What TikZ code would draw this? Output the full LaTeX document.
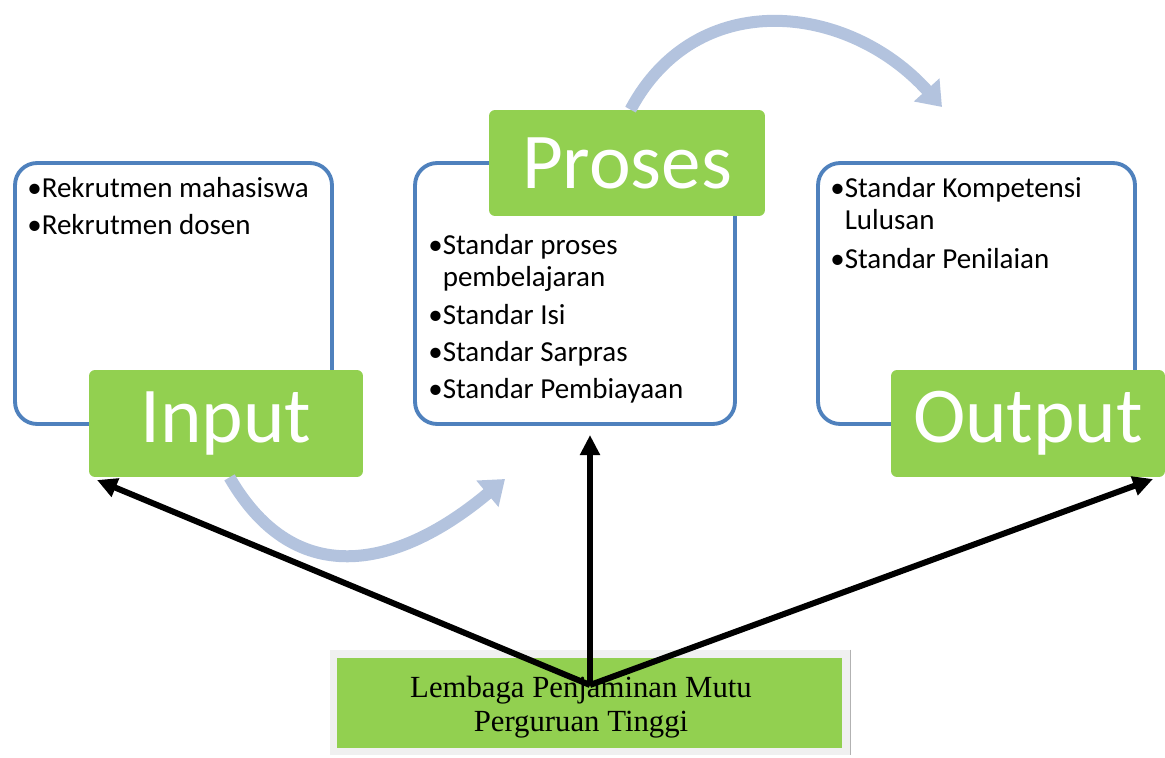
\documentclass[tikz,border=0pt]{standalone}
\usepackage{fontspec}
\setmainfont{Carlito}
\newfontfamily\timesfont{Liberation Serif}
\usetikzlibrary{
    arrows.meta,    % tips for the flow and link arrows
    positioning     % relative placement
}
\definecolor{boxblue}{HTML}{4F81BD}
\definecolor{phasegreen}{HTML}{92D050}
\definecolor{flowblue}{HTML}{B3C3DE}
\tikzset{
    std box/.style={draw=boxblue, line width=2.2pt, rounded corners=0.44cm,
        fill=white, minimum width=6.34cm, minimum height=5.22cm},
    phase node/.style={fill=phasegreen, rounded corners=0.12cm, inner sep=0pt,
        minimum width=5.48cm, minimum height=2.14cm, text=white,
        font=\fontsize{45}{50}\selectfont},
    item text/.style={anchor=north west, align=left, inner sep=0pt,
        font=\fontsize{16.5}{18}\selectfont},
    flow arrow/.style={draw=flowblue, line width=0.24cm,
        -{Triangle[length=0.46cm, width=0.66cm]}},
    link arrow/.style={draw, line width=0.12cm,
        -{Triangle[length=0.4cm, width=0.38cm]}}
}

\begin{document}
\begin{tikzpicture}[x=0.02cm, y=-0.02cm]
    \useasboundingbox (0,0) rectangle (1165,757);

    % standard boxes
    \node [std box] (input box) at (173.5,293.5) {};
    \node [std box, minimum width=6.4cm] (proses box) at (575,293.5) {};
    \node [std box] (output box) at (976.5,293.5) {};

    \node [item text] (input items) at (27,177)
        {\textbullet Rekrutmen mahasiswa\\[3pt]\textbullet Rekrutmen dosen};
    \node [item text] (proses items) at (428,234)
        {\textbullet Standar proses\\ \hphantom{\textbullet}pembelajaran\\[4pt]
         \textbullet Standar Isi\\[3pt]\textbullet Standar Sarpras\\[3pt]
         \textbullet Standar Pembiayaan};
    \node [item text] (output items) at (830,177)
        {\textbullet Standar Kompetensi\\ \hphantom{\textbullet}Lulusan\\[4.5pt]
         \textbullet Standar Penilaian};

    % phases
    \node [phase node] (input) at (226,423.5) {Input};
    \node [phase node, minimum width=5.52cm, minimum height=2.12cm] (proses) at (627,163) {Proses};
    \node [phase node] (output) at (1028,423.5) {Output};

    % flow between the phases
    \coordinate (flow in) at (505,479);
    \coordinate (flow out) at (942,107);
    \draw [flow arrow] ([xshift=2pt]input.south) to[out=-60, in=-140, looseness=1.25] (flow in);
    \draw [flow arrow] ([xshift=2pt]proses.north) to[out=62, in=132, looseness=1.15] (flow out);

    % quality assurance unit
    \node [fill=gray!12, minimum width=10.4cm, minimum height=2.1cm] (lpm frame) at (590,702.5) {};
    \draw [gray!60, line width=0.6pt] (lpm frame.north east) -- (lpm frame.south east);
    \node [fill=phasegreen, minimum width=10.1cm, minimum height=1.8cm] (lpm) at (589.5,703) {};
    \node [align=center, font=\timesfont\fontsize{17.5}{19.5}\selectfont] (lpm text) at (581,707)
        {Lembaga Penjaminan Mutu\\Perguruan Tinggi};

    \coordinate (hub) at (590,685);
    \coordinate (to input) at (97,480);
    \coordinate (to proses) at (590,435);
    \coordinate (to output) at (1153,479);
    \draw [link arrow] (hub) -- (to input);
    \draw [link arrow] (hub) -- (to proses);
    \draw [link arrow] (hub) -- (to output);
\end{tikzpicture}
\end{document}
